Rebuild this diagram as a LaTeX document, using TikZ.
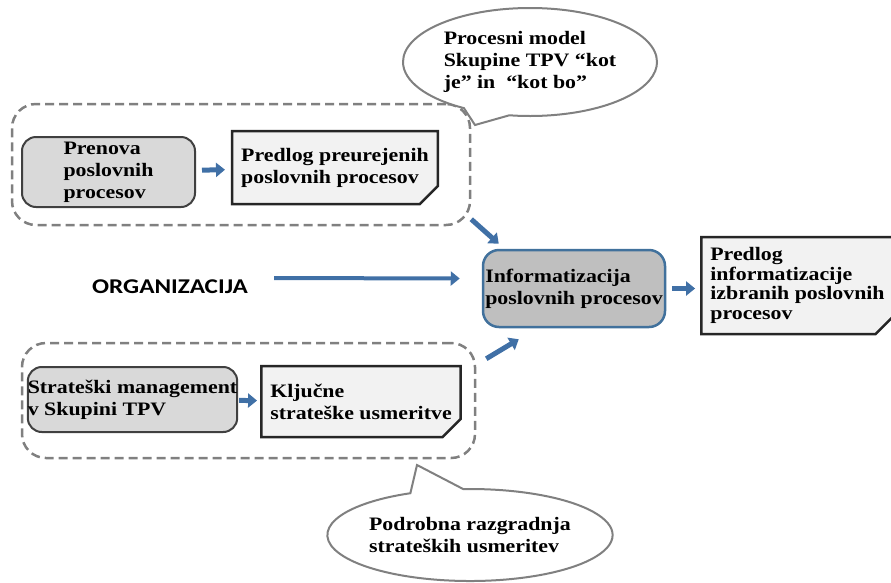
\documentclass[tikz,border=0pt]{standalone}
\usepackage{fontspec}
\newfontfamily\boxfont[FakeStretch=1.15]{Liberation Serif}
\newfontfamily\orgfont[FakeStretch=1.2]{Carlito}
\usetikzlibrary{arrows.meta,shapes.misc,shapes.callouts,calc}
\definecolor{arrblue}{RGB}{64,112,166}
\definecolor{infoline}{RGB}{65,113,156}
\definecolor{grpgray}{RGB}{128,128,128}
\definecolor{procfill}{RGB}{217,217,217}
\definecolor{infofill}{RGB}{191,191,191}
\definecolor{docfill}{RGB}{242,242,242}
\tikzset{
  txt/.style={font=\boxfont\bfseries\fontsize{19}{22}\selectfont,align=left,text=black},
  grp/.style={draw=grpgray,line width=2.5pt,dash pattern=on 9pt off 5pt,rounded corners=24pt},
  proc/.style={txt,draw=black!75,fill=procfill,line width=2pt,rounded corners=14pt,inner sep=1pt},
  info/.style={txt,draw=infoline,fill=infofill,line width=2.5pt,rounded corners=16pt,inner sep=1pt},
  doc/.style={txt,draw=black!85,fill=docfill,line width=2.5pt,inner sep=0pt,chamfered rectangle,
    chamfered rectangle corners=south east,chamfered rectangle xsep=9pt,chamfered rectangle ysep=9pt},
  bubble/.style={txt,draw=grpgray,fill=white,line width=2pt,ellipse callout,inner sep=0pt,
    callout pointer arc=22},
  flow/.style={draw=arrblue,line width=5pt,-{Triangle[length=9pt,width=14pt]}},
}
\begin{document}
\begin{tikzpicture}[x=1pt,y=-1pt]
\useasboundingbox (0,0) rectangle (891,582);

% grupe
\node[grp,minimum width=458pt,minimum height=121pt] (zgoraj) at (241,164.5) {};
\node[grp,minimum width=453pt,minimum height=115pt] (spodaj) at (248.5,400.5) {};

% zgornja vrsta
\node[proc,minimum width=173pt,minimum height=70pt] (prenova) at (108.5,172) {Prenova\\poslovnih\\procesov};
\node[doc,minimum width=200pt,minimum height=73pt] (predlog) at (335,167.5) {Predlog preurejenih\\poslovnih procesov};

% sredina
\node[font=\orgfont\bfseries\fontsize{21}{24}\selectfont,inner sep=0pt] (org) at (170,287) {ORGANIZACIJA};
\node[info,minimum width=182pt,minimum height=77pt] (info) at (574,288.5) {Informatizacija\\poslovnih procesov};
\node[doc,minimum width=183pt,minimum height=97pt,font=\boxfont\bfseries\fontsize{19}{19.5}\selectfont] (predlog2) at (797.5,285.5) {Predlog\\informatizacije\\izbranih poslovnih\\procesov};

% spodnja vrsta
\node[proc,minimum width=205pt,minimum height=65pt,inner sep=0pt] (strat) at (132.5,399.5) {Strateški management\\v Skupini TPV};
\node[doc,minimum width=198pt,minimum height=71pt] (kljucne) at (361,401.5) {Ključne\\strateške usmeritve};

% oblacka
\node[bubble,minimum width=254pt,minimum height=108pt,callout absolute pointer={(475,125)}] (model) at (530,62)
  {Procesni model\\Skupine TPV “kot\\je” in \ “kot bo”};
\node[bubble,minimum width=262pt,minimum height=92pt,callout absolute pointer={(417,465)}] (razgradnja) at (470,535)
  {Podrobna razgradnja\\strateških usmeritev};

% puscice
\draw[flow,shorten <=6pt,shorten >=6pt] (prenova) -- (predlog);
\draw[flow,shorten <=1pt,shorten >=3pt] (strat) -- (kljucne);
\draw[flow,shorten <=6pt,shorten >=5pt] (info.east) -- (info.east -| predlog2.west);
\draw[flow,line width=4pt] ($(org.east)+(26,-9)$) -- ($(info.west)+(-22,-10)$);
\draw[flow] ($(zgoraj.south east)+(0,-7)$) -- ($(info.north west)+(17,-5)$);
\draw[flow] ($(spodaj.north east)+(10,17)$) -- ($(info.south west)+(37,11)$);
\end{tikzpicture}
\end{document}
